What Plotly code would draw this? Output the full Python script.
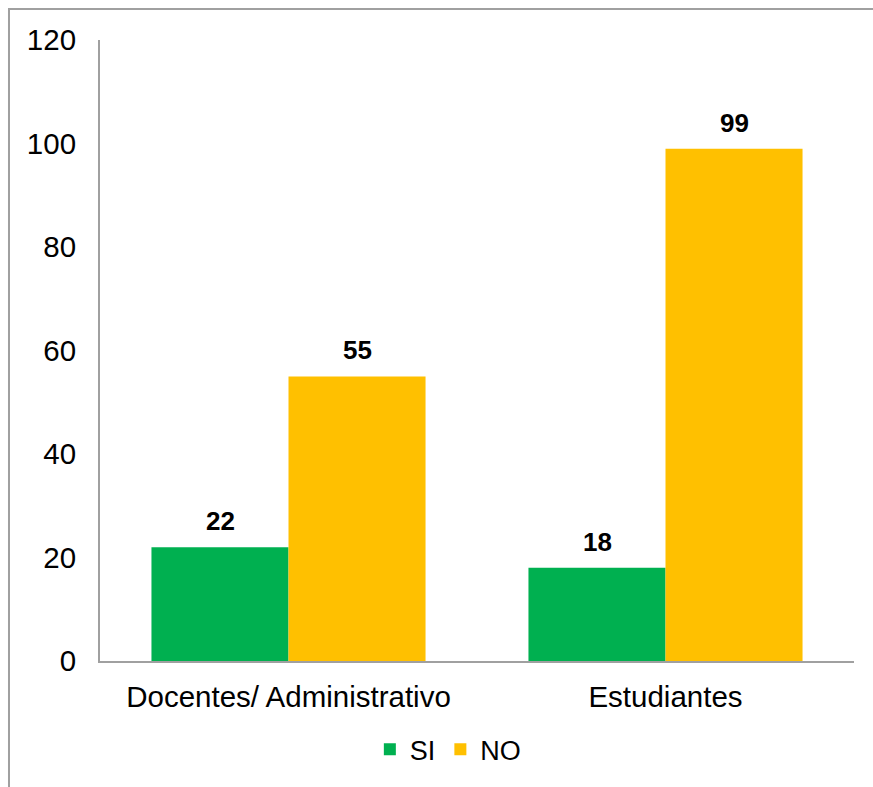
import plotly.graph_objects as go

# Survey responses by group
categories = ["Docentes/ Administrativo", "Estudiantes"]
si_values = [22, 18]
no_values = [55, 99]
y_ticks = [0, 20, 40, 60, 80, 100, 120]

GREEN = "#00B050"
YELLOW = "#FFC000"
AXIS_GRAY = "#A0A0A0"
FONT = "Liberation Sans, Arial, sans-serif"

fig = go.Figure()
fig.add_trace(go.Bar(name="SI", x=categories, y=si_values, marker_color=GREEN,
                     marker_line_width=0))
fig.add_trace(go.Bar(name="NO", x=categories, y=no_values, marker_color=YELLOW,
                     marker_line_width=0))

# Value labels above each bar (bold), offset to each bar within its group
half_bar = 68.5
for values, shift in ((si_values, -half_bar), (no_values, half_bar)):
    for cat, v in zip(categories, values):
        fig.add_annotation(x=cat, y=v, xref="x", yref="y", text=f"<b>{v}</b>",
                           showarrow=False, yanchor="bottom", xshift=shift,
                           yshift=9, font=dict(size=26, color="black", family=FONT))

# Outer frame of the chart area
fig.add_shape(type="rect", xref="paper", yref="paper",
              x0=-0.1207, x1=1.2, y0=-0.3, y1=1.0499,
              line=dict(color=AXIS_GRAY, width=2), fillcolor="rgba(0,0,0,0)",
              layer="below")

fig.update_layout(
    width=873, height=787,
    margin=dict(l=100, r=19, t=40, b=126),
    paper_bgcolor="white", plot_bgcolor="white",
    barmode="group", bargap=0.273, bargroupgap=0,
    font=dict(family=FONT, size=27, color="black"),
    showlegend=True,
    legend=dict(orientation="h", x=0.462, xanchor="center", y=-0.143,
                yanchor="middle", font=dict(size=27), itemwidth=30,
                tracegroupgap=0),
    xaxis=dict(showline=True, linecolor=AXIS_GRAY, linewidth=2, ticks="",
               showgrid=False, tickfont=dict(size=29.5), ticklabelstandoff=9),
    yaxis=dict(range=[0, 120], tickvals=y_ticks, showline=True,
               linecolor=AXIS_GRAY, linewidth=2, ticks="", showgrid=False,
               zeroline=False, tickfont=dict(size=29.5), ticklabelstandoff=16),
)

fig.write_html("out.html")
